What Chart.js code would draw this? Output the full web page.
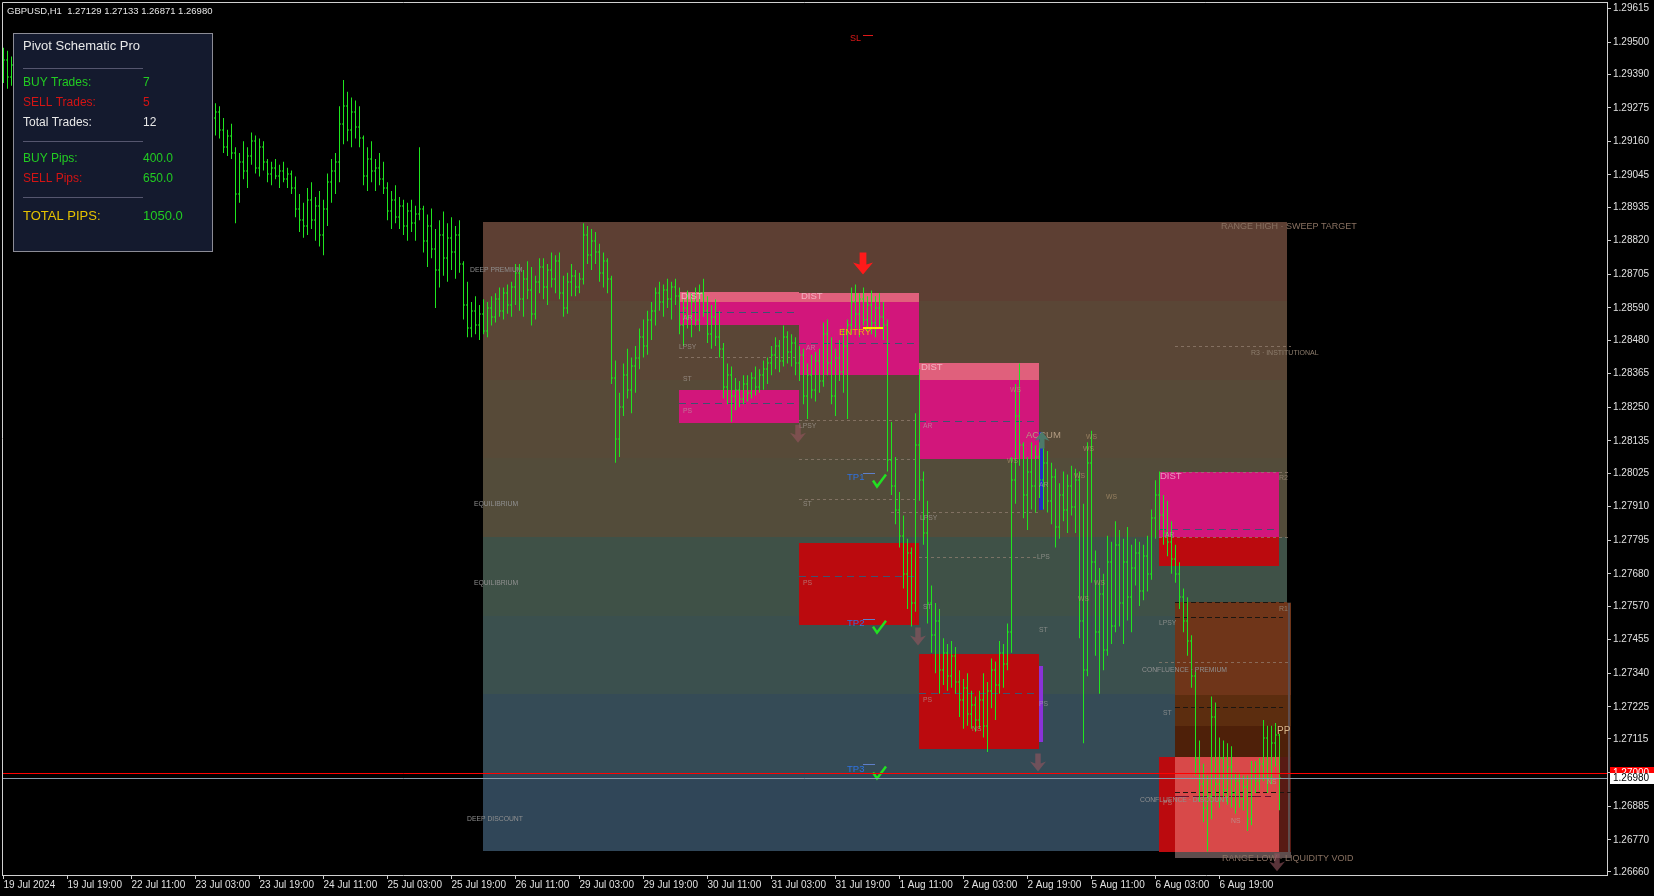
<!DOCTYPE html>
<html>
<head>
<meta charset="utf-8">
<title>GBPUSD,H1</title>
<script src="https://cdn.jsdelivr.net/npm/chart.js@4.4.1/dist/chart.umd.min.js"></script>
<style>
  html, body { margin: 0; padding: 0; background: #000; overflow: hidden; }
  canvas { display: block; }
</style>
</head>
<body>
<canvas id="myChart" width="1654" height="896"></canvas>
<script>
// ---- bars (H1) ----
const opens = [
1.2940,1.2944,1.2938,1.2942,1.2944,1.2946,1.2942,1.2946,1.2947,1.2944,
1.2946,1.2948,1.2945,1.2947,1.2944,1.2941,1.2943,1.2944,1.2940,1.2937,
1.2939,1.2935,1.2932,1.2934,1.2930,1.2927,1.2929,1.2926,1.2924,1.2927,
1.2925,1.2922,1.2925,1.2928,1.2931,1.2929,1.2933,1.2936,1.2934,1.2937,
1.2935,1.2938,1.2936,1.2933,1.2935,1.2931,1.2929,1.2932,1.2928,1.2930,
1.2927,1.2929,1.2926,1.2924,1.2926,1.2920,1.2914,1.2918,1.2912,1.2898,
1.2909,1.2906,1.2911,1.2916,1.2907,1.2914,1.2909,1.2905,1.2907,1.2904,
1.2906,1.2903,1.2905,1.2900,1.2893,1.2889,1.2887,1.2896,1.2889,1.2894,
1.2884,1.2893,1.2902,1.2906,1.2909,1.2922,1.2928,1.2920,1.2926,1.2921,
1.2917,1.2904,1.2910,1.2906,1.2907,1.2903,1.2900,1.2892,1.2896,1.2890,
1.2894,1.2887,1.2892,1.2888,1.2891,1.2893,1.2882,1.2887,1.2879,1.2872,
1.2884,1.2876,1.2883,1.2878,1.2884,1.2874,1.2860,1.2852,1.2858,1.2853,
1.2857,1.2851,1.2859,1.2856,1.2862,1.2858,1.2864,1.2860,1.2866,1.2871,
1.2862,1.2869,1.2865,1.2857,1.2868,1.2873,1.2866,1.2872,1.2869,1.2875,
1.2864,1.2859,1.2868,1.2870,1.2866,1.2869,1.2884,1.2877,1.2882,1.2878,
1.2871,1.2875,1.2869,1.2835,1.2814,1.2825,1.2836,1.2831,1.2839,1.2842,
1.2849,1.2846,1.2855,1.2858,1.2864,1.2861,1.2865,1.2862,1.2866,1.2863,
1.2853,1.2859,1.2856,1.2861,1.2855,1.2864,1.2858,1.2850,1.2856,1.2849,
1.2845,1.2832,1.2836,1.2829,1.2831,1.2828,1.2833,1.2830,1.2835,1.2832,
1.2836,1.2838,1.2840,1.2843,1.2846,1.2841,1.2849,1.2844,1.2847,1.2840,
1.2843,1.2829,1.2836,1.2831,1.2841,1.2834,1.2850,1.2840,1.2829,1.2842,
1.2837,1.2846,1.2853,1.2861,1.2857,1.2862,1.2855,1.2860,1.2854,1.2859,
1.2856,1.2853,1.2807,1.2798,1.2790,1.2781,1.2768,1.2775,1.2758,1.2812,
1.2800,1.2782,1.2758,1.2747,1.2752,1.2735,1.2741,1.2733,1.2740,1.2731,
1.2725,1.2729,1.2720,1.2723,1.2718,1.2725,1.2716,1.2728,1.2735,1.2730,
1.2741,1.2737,1.2748,1.2800,1.2822,1.2812,1.2795,1.2803,1.2798,1.2808,
1.2800,1.2806,1.2793,1.2801,1.2784,1.2795,1.2790,1.2798,1.2791,1.2800,
1.2752,1.2735,1.2806,1.2772,1.2748,1.2761,1.2742,1.2772,1.2750,1.2778,
1.2758,1.2772,1.2760,1.2770,1.2775,1.2762,1.2774,1.2768,1.2787,1.2795,
1.2788,1.2782,1.2779,1.2773,1.2768,1.2760,1.2752,1.2745,1.2733,1.2705,
1.2696,1.2688,1.2692,1.2719,1.2696,1.2705,1.2694,1.2702,1.2693,1.2697,
1.2691,1.2695,1.2684,1.2700,1.2697,1.2703,1.2712,1.2698,1.2710,1.27129
];
const highs = [
1.2948,1.2947,1.2945,1.2946,1.2948,1.2947,1.2948,1.2950,1.2949,1.2948,
1.2950,1.2949,1.2950,1.2948,1.2946,1.2944,1.2947,1.2945,1.2942,1.2942,
1.2940,1.2937,1.2937,1.2935,1.2932,1.2931,1.2930,1.2928,1.2929,1.2928,
1.2926,1.2927,1.2930,1.2933,1.2932,1.2935,1.2938,1.2937,1.2939,1.2938,
1.2940,1.2939,1.2937,1.2937,1.2936,1.2933,1.2934,1.2933,1.2932,1.2931,
1.2931,1.2930,1.2928,1.2929,1.2928,1.2924,1.2920,1.2922,1.2914,1.2912,
1.2916,1.2914,1.2919,1.2918,1.2917,1.2916,1.2910,1.2909,1.2910,1.2908,
1.2909,1.2907,1.2906,1.2904,1.2898,1.2895,1.2900,1.2902,1.2897,1.2899,
1.2896,1.2905,1.2910,1.2912,1.2928,1.2937,1.2933,1.2931,1.2930,1.2928,
1.2918,1.2914,1.2916,1.2910,1.2912,1.2909,1.2902,1.2899,1.2901,1.2897,
1.2896,1.2895,1.2896,1.2894,1.2914,1.2894,1.2891,1.2893,1.2886,1.2889,
1.2892,1.2888,1.2890,1.2887,1.2889,1.2875,1.2868,1.2861,1.2863,1.2860,
1.2862,1.2861,1.2863,1.2864,1.2866,1.2866,1.2867,1.2868,1.2874,1.2874,
1.2872,1.2875,1.2873,1.2870,1.2876,1.2876,1.2874,1.2878,1.2877,1.2878,
1.2870,1.2871,1.2874,1.2872,1.2871,1.2888,1.2887,1.2886,1.2885,1.2881,
1.2878,1.2876,1.2870,1.2841,1.2830,1.2840,1.2845,1.2842,1.2846,1.2852,
1.2855,1.2858,1.2861,1.2866,1.2868,1.2867,1.2869,1.2868,1.2869,1.2866,
1.2862,1.2865,1.2864,1.2866,1.2867,1.2869,1.2863,1.2860,1.2862,1.2858,
1.2847,1.2840,1.2839,1.2835,1.2834,1.2836,1.2836,1.2837,1.2839,1.2838,
1.2841,1.2842,1.2846,1.2849,1.2848,1.2853,1.2851,1.2850,1.2849,1.2846,
1.2845,1.2840,1.2843,1.2844,1.2845,1.2854,1.2855,1.2849,1.2845,1.2848,
1.2852,1.2855,1.2866,1.2867,1.2864,1.2866,1.2863,1.2865,1.2863,1.2864,
1.2861,1.2855,1.2820,1.2808,1.2796,1.2788,1.2780,1.2777,1.2823,1.2838,
1.2803,1.2793,1.2764,1.2758,1.2756,1.2746,1.2744,1.2745,1.2743,1.2735,
1.2732,1.2734,1.2728,1.2726,1.2728,1.2734,1.2731,1.2739,1.2738,1.2745,
1.2744,1.2751,1.2808,1.2833,1.2840,1.2813,1.2808,1.2813,1.2812,1.2813,
1.2811,1.2810,1.2806,1.2804,1.2799,1.2803,1.2802,1.2805,1.2804,1.2803,
1.2792,1.2813,1.2817,1.2776,1.2770,1.2768,1.2781,1.2779,1.2786,1.2783,
1.2780,1.2784,1.2778,1.2780,1.2779,1.2778,1.2781,1.2790,1.2800,1.2803,
1.2795,1.2793,1.2786,1.2778,1.2772,1.2763,1.2760,1.2747,1.2735,1.2711,
1.2703,1.2699,1.2726,1.2724,1.2712,1.2711,1.2710,1.2709,1.2700,1.2700,
1.2699,1.2699,1.2704,1.2704,1.2705,1.2718,1.2716,1.2716,1.2717,1.27133
];
const lows = [
1.2936,1.2934,1.2935,1.2939,1.2941,1.2940,1.2940,1.2944,1.2942,1.2942,
1.2944,1.2943,1.2943,1.2941,1.2939,1.2937,1.2941,1.2937,1.2934,1.2935,
1.2932,1.2929,1.2930,1.2927,1.2924,1.2925,1.2923,1.2921,1.2922,1.2922,
1.2919,1.2920,1.2923,1.2926,1.2926,1.2927,1.2931,1.2931,1.2932,1.2932,
1.2933,1.2933,1.2930,1.2931,1.2929,1.2926,1.2927,1.2925,1.2926,1.2924,
1.2925,1.2923,1.2921,1.2918,1.2917,1.2912,1.2911,1.2910,1.2888,1.2895,
1.2903,1.2900,1.2908,1.2905,1.2904,1.2906,1.2902,1.2901,1.2903,1.2900,
1.2902,1.2900,1.2898,1.2890,1.2885,1.2883,1.2884,1.2886,1.2882,1.2880,
1.2877,1.2887,1.2895,1.2898,1.2902,1.2915,1.2916,1.2914,1.2917,1.2914,
1.2901,1.2899,1.2902,1.2899,1.2901,1.2898,1.2889,1.2886,1.2888,1.2886,
1.2884,1.2882,1.2885,1.2882,1.2889,1.2878,1.2873,1.2876,1.2859,1.2866,
1.2870,1.2868,1.2872,1.2869,1.2871,1.2855,1.2849,1.2849,1.2850,1.2848,
1.2850,1.2849,1.2853,1.2854,1.2856,1.2855,1.2857,1.2856,1.2860,1.2858,
1.2856,1.2862,1.2853,1.2855,1.2864,1.2862,1.2860,1.2866,1.2864,1.2862,
1.2856,1.2857,1.2863,1.2863,1.2864,1.2867,1.2874,1.2872,1.2874,1.2868,
1.2866,1.2864,1.2833,1.2806,1.2808,1.2822,1.2828,1.2823,1.2830,1.2838,
1.2842,1.2843,1.2848,1.2853,1.2858,1.2856,1.2859,1.2855,1.2860,1.2850,
1.2846,1.2852,1.2849,1.2853,1.2851,1.2856,1.2847,1.2845,1.2846,1.2842,
1.2828,1.2826,1.2820,1.2824,1.2825,1.2826,1.2827,1.2828,1.2829,1.2830,
1.2831,1.2833,1.2836,1.2838,1.2837,1.2839,1.2840,1.2839,1.2836,1.2834,
1.2826,1.2821,1.2828,1.2827,1.2830,1.2832,1.2836,1.2826,1.2822,1.2834,
1.2830,1.2821,1.2850,1.2852,1.2849,1.2853,1.2851,1.2850,1.2849,1.2852,
1.2848,1.2803,1.2795,1.2785,1.2777,1.2763,1.2756,1.2750,1.2755,1.2793,
1.2778,1.2751,1.2741,1.2734,1.2727,1.2730,1.2728,1.2729,1.2727,1.2719,
1.2715,1.2716,1.2715,1.2714,1.2715,1.2712,1.2707,1.2722,1.2718,1.2727,
1.2729,1.2735,1.2741,1.2792,1.2805,1.2787,1.2783,1.2790,1.2789,1.2794,
1.2790,1.2789,1.2785,1.2777,1.2780,1.2786,1.2782,1.2788,1.2782,1.2746,
1.2710,1.2733,1.2765,1.2740,1.2727,1.2735,1.2740,1.2744,1.2748,1.2750,
1.2744,1.2752,1.2748,1.2764,1.2757,1.2759,1.2762,1.2766,1.2780,1.2783,
1.2778,1.2774,1.2768,1.2765,1.2756,1.2748,1.2740,1.2729,1.2699,1.2690,
1.2683,1.2673,1.2684,1.2690,1.2688,1.2690,1.2689,1.2688,1.2686,1.2688,
1.2687,1.2680,1.2682,1.2693,1.2694,1.2697,1.2693,1.2696,1.2702,1.26871
];
const closes = [
1.2944,1.2938,1.2942,1.2944,1.2946,1.2942,1.2946,1.2947,1.2944,1.2946,
1.2948,1.2945,1.2947,1.2944,1.2941,1.2943,1.2944,1.2940,1.2937,1.2939,
1.2935,1.2932,1.2934,1.2930,1.2927,1.2929,1.2926,1.2924,1.2927,1.2925,
1.2922,1.2925,1.2928,1.2931,1.2929,1.2933,1.2936,1.2934,1.2937,1.2935,
1.2938,1.2936,1.2933,1.2935,1.2931,1.2929,1.2932,1.2928,1.2930,1.2927,
1.2929,1.2926,1.2924,1.2926,1.2920,1.2914,1.2918,1.2912,1.2898,1.2909,
1.2906,1.2911,1.2916,1.2907,1.2914,1.2909,1.2905,1.2907,1.2904,1.2906,
1.2903,1.2905,1.2900,1.2893,1.2889,1.2887,1.2896,1.2889,1.2894,1.2884,
1.2893,1.2902,1.2906,1.2909,1.2922,1.2928,1.2920,1.2926,1.2921,1.2917,
1.2904,1.2910,1.2906,1.2907,1.2903,1.2900,1.2892,1.2896,1.2890,1.2894,
1.2887,1.2892,1.2888,1.2891,1.2893,1.2882,1.2887,1.2879,1.2872,1.2884,
1.2876,1.2883,1.2878,1.2884,1.2874,1.2860,1.2852,1.2858,1.2853,1.2857,
1.2851,1.2859,1.2856,1.2862,1.2858,1.2864,1.2860,1.2866,1.2871,1.2862,
1.2869,1.2865,1.2857,1.2868,1.2873,1.2866,1.2872,1.2869,1.2875,1.2864,
1.2859,1.2868,1.2870,1.2866,1.2869,1.2884,1.2877,1.2882,1.2878,1.2871,
1.2875,1.2869,1.2835,1.2814,1.2825,1.2836,1.2831,1.2839,1.2842,1.2849,
1.2846,1.2855,1.2858,1.2864,1.2861,1.2865,1.2862,1.2866,1.2863,1.2853,
1.2859,1.2856,1.2861,1.2855,1.2864,1.2858,1.2850,1.2856,1.2849,1.2845,
1.2832,1.2836,1.2829,1.2831,1.2828,1.2833,1.2830,1.2835,1.2832,1.2836,
1.2838,1.2840,1.2843,1.2846,1.2841,1.2849,1.2844,1.2847,1.2840,1.2843,
1.2829,1.2836,1.2831,1.2841,1.2834,1.2850,1.2840,1.2829,1.2842,1.2837,
1.2846,1.2853,1.2861,1.2857,1.2862,1.2855,1.2860,1.2854,1.2859,1.2856,
1.2853,1.2807,1.2798,1.2790,1.2781,1.2768,1.2775,1.2758,1.2812,1.2800,
1.2782,1.2758,1.2747,1.2752,1.2735,1.2741,1.2733,1.2740,1.2731,1.2725,
1.2729,1.2720,1.2723,1.2718,1.2725,1.2716,1.2728,1.2735,1.2730,1.2741,
1.2737,1.2748,1.2800,1.2822,1.2812,1.2795,1.2803,1.2798,1.2808,1.2800,
1.2806,1.2793,1.2801,1.2784,1.2795,1.2790,1.2798,1.2791,1.2800,1.2752,
1.2735,1.2806,1.2772,1.2748,1.2761,1.2742,1.2772,1.2750,1.2778,1.2758,
1.2772,1.2760,1.2770,1.2775,1.2762,1.2774,1.2768,1.2787,1.2795,1.2788,
1.2782,1.2779,1.2773,1.2768,1.2760,1.2752,1.2745,1.2733,1.2705,1.2696,
1.2688,1.2692,1.2719,1.2696,1.2705,1.2694,1.2702,1.2693,1.2697,1.2691,
1.2695,1.2684,1.2700,1.2697,1.2703,1.2712,1.2698,1.2710,1.2713,1.26980
];

const symbol = 'GBPUSD';
const timeframe = 'H1';

// ---- axes ----
const xTickBars = [0,16,32,48,64,80,96,112,128,144,160,176,192,208,224,240,256,272,288,304];
const xTickLabels = ['19 Jul 2024','19 Jul 19:00','22 Jul 11:00','23 Jul 03:00','23 Jul 19:00',
  '24 Jul 11:00','25 Jul 03:00','25 Jul 19:00','26 Jul 11:00','29 Jul 03:00','29 Jul 19:00',
  '30 Jul 11:00','31 Jul 03:00','31 Jul 19:00','1 Aug 11:00','2 Aug 03:00','2 Aug 19:00',
  '5 Aug 11:00','6 Aug 03:00','6 Aug 19:00'];
const yTickValues = [1.29615,1.29500,1.29390,1.29275,1.29160,1.29045,1.28935,1.28820,1.28705,
  1.28590,1.28480,1.28365,1.28250,1.28135,1.28025,1.27910,1.27795,1.27680,1.27570,1.27455,
  1.27340,1.27225,1.27115,1.27000,1.26885,1.26770,1.26660];
const yAxisMin = 1.266495;
const yAxisMax = 1.296369;
const xAxisMin = -0.375;
const xAxisMax = 400.875;

// ---- price levels ----
const alertLevel = 1.27000;
const bidLevel = 1.26980;

// ---- dealing range ----
const rangeBars = [120, 321];
const rangeHigh = 1.28883;
const rangeLow = 1.26730;
const bandColors = ['#5d3f33','#5a4636','#574a38','#534c3a','#3f5147','#3b504e','#354b56','#304658'];

// [fromBar, toBar, top, bottom, kind]
const schematicBoxes = [
  [169, 199, 1.28646, 1.28533, 'dist'],
  [169, 199, 1.28646, 1.28612, 'distHead'],
  [169, 199, 1.28310, 1.28197, 'dist'],
  [199, 229, 1.28642, 1.28359, 'dist'],
  [199, 229, 1.28642, 1.28612, 'distHead'],
  [229, 259, 1.28403, 1.28074, 'dist'],
  [229, 259, 1.28403, 1.28342, 'distHead'],
  [289, 319, 1.28029, 1.27805, 'dist'],
  [289, 319, 1.27805, 1.27706, 'supply'],
  [199, 229, 1.27787, 1.27505, 'supply'],
  [229, 259, 1.27407, 1.27079, 'supply'],
  [293, 322, 1.27585, 1.27267, 'r1'],
  [293, 322, 1.27267, 1.27158, 'st'],
  [293, 322, 1.27158, 1.26727, 'pp'],
  [319, 322, 1.27052, 1.26727, 'ppEdge'],
  [289, 293, 1.27052, 1.26727, 'supply'],
  [293, 319, 1.27052, 1.26727, 'discount'],
  [293, 322, 1.26727, 1.26706, 'edge'],
  [321.25, 321.75, 1.27585, 1.26727, 'edge'],
  [259, 260, 1.28167, 1.27900, 'accumBar'],
  [259, 260, 1.27366, 1.27103, 'markBar']
];
// [fromBar, toBar, price, kind]
const levelLines = [
  [169, 198, 1.28577, 'box'], [169, 198, 1.28266, 'box'], [199, 228, 1.28470, 'box'],
  [229, 258, 1.28204, 'box'], [289, 318, 1.27835, 'box'], [199, 228, 1.27671, 'box'],
  [229, 258, 1.27274, 'box'],
  [169, 199, 1.28423, 'dot'], [199, 229, 1.28208, 'dot'], [199, 229, 1.28074, 'dot'],
  [199, 229, 1.27937, 'dot'], [222, 259, 1.27893, 'dot'], [229, 259, 1.27739, 'dot'],
  [293, 322, 1.28461, 'dot'], [289, 322, 1.28029, 'dot'], [289, 322, 1.27805, 'dot'],
  [289, 322, 1.27377, 'dot'],
  [293, 322, 1.27585, 'dark'], [293, 320, 1.27531, 'dark'], [293, 320, 1.27226, 'dark'],
  [293, 322, 1.26932, 'dark'], [293, 317, 1.26919, 'maroon']
];
// [text, bar, price, kind]
const chartLabels = [
  ['RANGE HIGH · SWEEP TARGET', 304.5, 1.28868, 'range'],
  ['RANGE LOW · LIQUIDITY VOID', 304.75, 1.26706, 'range'],
  ['DEEP PREMIUM', 116.75, 1.28721, 'zone'],
  ['EQUILIBRIUM', 117.75, 1.27917, 'zone'],
  ['EQUILIBRIUM', 117.75, 1.27650, 'zone'],
  ['DEEP DISCOUNT', 116, 1.26840, 'zone'],
  ['CONFLUENCE · PREMIUM', 284.75, 1.27349, 'zone'],
  ['CONFLUENCE · DISCOUNT', 284.25, 1.26905, 'zone'],
  ['R3 · INSTITUTIONAL', 312, 1.28437, 'pivot'],
  ['R2', 319, 1.28009, 'pivot'],
  ['R1', 319, 1.27561, 'pivot'],
  ['PP', 318.5, 1.27141, 'pp'],
  ['DIST', 169.5, 1.28628, 'dist'], ['DIST', 199.5, 1.28628, 'dist'],
  ['DIST', 229.5, 1.28386, 'dist'], ['DIST', 289.25, 1.28013, 'dist'],
  ['ACCUM', 255.75, 1.28153, 'accum'],
  ['AR', 170, 1.28556, 'phase'], ['LPSY', 169, 1.28457, 'phase'], ['ST', 170, 1.28348, 'phase'],
  ['PS', 170, 1.28238, 'phase'], ['AR', 200.75, 1.28454, 'phase'], ['LPSY', 199, 1.28187, 'phase'],
  ['ST', 200, 1.27917, 'phase'], ['PS', 200, 1.27647, 'phase'], ['AR', 230, 1.28184, 'phase'],
  ['LPSY', 229.25, 1.27872, 'phase'], ['ST', 230, 1.27565, 'phase'], ['PS', 230, 1.27247, 'phase'],
  ['NS', 242.25, 1.27148, 'phase'], ['LPS', 258.5, 1.27739, 'phase'], ['AR', 259, 1.27985, 'phase'],
  ['ST', 259, 1.27486, 'phase'], ['PS', 259, 1.27233, 'phase'], ['AR', 290.5, 1.27814, 'phase'],
  ['LPSY', 289, 1.27510, 'phase'], ['ST', 290, 1.27202, 'phase'], ['PS', 290, 1.26894, 'phase'],
  ['NS', 307, 1.26833, 'phase'], ['NS', 316, 1.26968, 'phase'],
  ['WS', 251.75, 1.28310, 'ws'], ['WS', 251, 1.28067, 'ws'], ['WS', 270.75, 1.28149, 'ws'],
  ['WS', 270, 1.28108, 'ws'], ['WS', 267.75, 1.28016, 'ws'], ['WS', 275.75, 1.27944, 'ws'],
  ['WS', 272.75, 1.27650, 'ws'], ['WS', 268.75, 1.27592, 'ws'],
  ['ENTRY', 209, 1.28505, 'entry'],
  ['TP1', 211, 1.28009, 'tp'], ['TP2', 211, 1.27510, 'tp'], ['TP3', 211, 1.27011, 'tp'],
  ['SL', 211.75, 1.29511, 'sl']
];
// [fromBar, toBar, price, kind]
const tradeTicks = [
  [215, 218, 1.28026, 'tp'], [215, 218, 1.27527, 'tp'], [215, 218, 1.27028, 'tp'],
  [215, 217.5, 1.29524, 'sl'], [215, 220, 1.28526, 'entry']
];
const tpHits = [[217.25, 1.27996], [217.25, 1.27496], [217.25, 1.26997]];
// [bar, tipPrice, kind]
const signalArrows = [
  [215, 1.28704, 'sell'], [198.75, 1.28129, 'exit'], [228.75, 1.27435, 'exit'],
  [258.75, 1.27004, 'exit'], [318.5, 1.26662, 'exit'], [259.75, 1.28167, 'accum']
];

// ---- panel stats ----
const buyTrades = 7, sellTrades = 5, totalTrades = 12;
const buyPips = 400.0, sellPips = 650.0, totalPips = 1050.0;

// ---- styles ----
const barGreen = '#1fe61f';
const FONT = '"Liberation Sans", Arial, sans-serif';
const font = (s) => s + 'px ' + FONT;
const boxColors = {
  dist: 'rgba(220,18,128,0.93)', distHead: '#e0607c', supply: '#bb0a0e',
  r1: '#6f3519', st: '#5c2d0f', pp: '#4e2009', ppEdge: '#581a14', discount: '#d84949',
  edge: '#5e4d4d', accumBar: '#2230c4', markBar: '#8a32d8'
};
const lineStyles = {
  box: { color: '#3f5270', dash: [7, 5] },
  dot: { color: 'rgba(150,130,115,0.7)', dash: [3, 3] },
  dark: { color: '#1c1610', dash: [5, 3] },
  maroon: { color: '#6e1030', dash: [14, 4] }
};
const labelStyles = {
  range: { size: 9, color: '#8a7262' },
  zone: { size: 6.8, color: '#909090' },
  pivot: { size: 7, color: '#8e7e6e' },
  pp: { size: 10, color: '#d6b48a' },
  dist: { size: 9.5, color: 'rgba(255,228,235,0.6)' },
  accum: { size: 9.5, color: '#b39c82' },
  phase: { size: 6.8, color: 'rgba(180,175,170,0.62)' },
  ws: { size: 6.8, color: 'rgba(190,160,120,0.62)' },
  entry: { size: 9.5, color: '#f0a818' },
  tp: { size: 9.5, color: '#2f72e0' },
  sl: { size: 9, color: '#e01818' }
};
const tickColors = { tp: '#5f7fc8', sl: '#e01818', entry: '#ffe000' };

Chart.defaults.font.family = FONT;

function colLeft(scale, bar) { return scale.getPixelForValue(bar) - 0.5; }

const background = {
  id: 'background',
  beforeDraw(chart) {
    const ctx = chart.ctx;
    ctx.save();
    ctx.fillStyle = '#000';
    ctx.fillRect(0, 0, chart.width, chart.height);
    ctx.restore();
  }
};

const zones = {
  id: 'zones',
  beforeDatasetsDraw(chart) {
    const { ctx, scales: { x, y } } = chart;
    const rect = (b0, b1, p0, p1, color) => {
      const x0 = Math.round(colLeft(x, b0)), x1 = Math.round(colLeft(x, b1));
      const y0 = Math.round(y.getPixelForValue(p0)), y1 = Math.round(y.getPixelForValue(p1));
      ctx.fillStyle = color;
      ctx.fillRect(x0, y0, Math.max(x1 - x0, 1), y1 - y0);
    };
    ctx.save();
    const step = (rangeHigh - rangeLow) / bandColors.length;
    bandColors.forEach((c, k) => {
      rect(rangeBars[0], rangeBars[1], rangeHigh - k * step, rangeHigh - (k + 1) * step, c);
    });
    schematicBoxes.forEach(b => rect(b[0], b[1], b[2], b[3], boxColors[b[4]]));
    ctx.lineWidth = 1;
    levelLines.forEach(l => {
      const st = lineStyles[l[3]];
      const py = Math.round(y.getPixelForValue(l[2])) + 0.5;
      ctx.strokeStyle = st.color;
      ctx.setLineDash(st.dash);
      ctx.beginPath();
      ctx.moveTo(colLeft(x, l[0]), py);
      ctx.lineTo(colLeft(x, l[1]), py);
      ctx.stroke();
    });
    ctx.setLineDash([]);
    ctx.restore();
  }
};

function drawArrow(ctx, cx, tip, w, h, dir, color) {
  const shaft = w * 0.34, head = h * 0.55;
  ctx.fillStyle = color;
  ctx.beginPath();
  ctx.moveTo(cx, tip);
  ctx.lineTo(cx - w / 2, tip - dir * head);
  ctx.lineTo(cx - shaft / 2, tip - dir * (head - 2));
  ctx.lineTo(cx - shaft / 2, tip - dir * h);
  ctx.lineTo(cx + shaft / 2, tip - dir * h);
  ctx.lineTo(cx + shaft / 2, tip - dir * (head - 2));
  ctx.lineTo(cx + w / 2, tip - dir * head);
  ctx.closePath();
  ctx.fill();
}

const overlays = {
  id: 'overlays',
  afterDatasetsDraw(chart) {
    const { ctx, chartArea, scales: { x, y } } = chart;
    ctx.save();
    // open / close ticks of the bars
    ctx.fillStyle = barGreen;
    for (let i = 0; i < opens.length; i++) {
      const px = Math.floor(x.getPixelForValue(i));
      ctx.fillRect(px - 1, Math.round(y.getPixelForValue(opens[i])) - 0.5, 1, 1);
      ctx.fillRect(px + 1, Math.round(y.getPixelForValue(closes[i])) - 0.5, 1, 1);
    }
    // labels
    ctx.textAlign = 'left';
    ctx.textBaseline = 'middle';
    chartLabels.forEach(l => {
      const st = labelStyles[l[3]];
      ctx.font = font(st.size);
      ctx.fillStyle = st.color;
      ctx.fillText(l[0], colLeft(x, l[1]), y.getPixelForValue(l[2]));
    });
    // trade ticks
    tradeTicks.forEach(t => {
      const py = Math.round(y.getPixelForValue(t[2]));
      ctx.fillStyle = tickColors[t[3]];
      ctx.fillRect(colLeft(x, t[0]), py, colLeft(x, t[1]) - colLeft(x, t[0]), t[3] === 'entry' ? 2 : 1);
    });
    // check marks
    ctx.strokeStyle = '#22e022';
    ctx.lineWidth = 2.5;
    ctx.lineJoin = 'miter';
    tpHits.forEach(h => {
      const ax = colLeft(x, h[0]), ay = y.getPixelForValue(h[1]);
      ctx.beginPath();
      ctx.moveTo(ax + 1, ay - 1);
      ctx.lineTo(ax + 5, ay + 5);
      ctx.lineTo(ax + 14, ay - 7);
      ctx.stroke();
    });
    // arrows
    signalArrows.forEach(a => {
      const cx = colLeft(x, a[0]), tip = y.getPixelForValue(a[1]);
      if (a[2] === 'sell') drawArrow(ctx, cx, tip, 20, 22, 1, '#ff1a1a');
      else if (a[2] === 'exit') drawArrow(ctx, cx, tip, 16, 18, 1, 'rgba(150,85,95,0.6)');
      else drawArrow(ctx, cx, tip, 15, 17, -1, '#4d7a6b');
    });
    // alert line and bid line
    const ya = Math.round(y.getPixelForValue(alertLevel)) + 0.5;
    const yb = Math.round(y.getPixelForValue(bidLevel)) + 0.5;
    ctx.lineWidth = 1;
    ctx.strokeStyle = '#ff0000';
    ctx.beginPath(); ctx.moveTo(chartArea.left, ya); ctx.lineTo(chartArea.right, ya); ctx.stroke();
    ctx.strokeStyle = '#8a9bab';
    ctx.beginPath(); ctx.moveTo(chartArea.left, yb); ctx.lineTo(chartArea.right, yb); ctx.stroke();
    ctx.restore();
  }
};

const frame = {
  id: 'frame',
  afterDraw(chart) {
    const { ctx, chartArea, scales: { y } } = chart;
    ctx.save();
    ctx.strokeStyle = '#d0d0d0';
    ctx.lineWidth = 1;
    ctx.beginPath();
    ctx.moveTo(chartArea.left + 0.5, chartArea.bottom);
    ctx.lineTo(chartArea.left + 0.5, chartArea.top + 0.5);
    ctx.lineTo(chartArea.right, chartArea.top + 0.5);
    ctx.stroke();

    // price tags on the axis
    ctx.font = font(10);
    ctx.textBaseline = 'middle';
    ctx.textAlign = 'left';
    const ya = Math.round(y.getPixelForValue(alertLevel));
    const yb = Math.round(y.getPixelForValue(bidLevel));
    ctx.fillStyle = '#ff0000';
    ctx.fillRect(chartArea.right + 3, ya - 6, 44, 11);
    ctx.fillStyle = '#ffffff';
    ctx.fillText(alertLevel.toFixed(5), chartArea.right + 6, ya);
    ctx.fillStyle = '#ffffff';
    ctx.fillRect(chartArea.right + 3, yb - 5, 44, 11);
    ctx.fillStyle = '#000000';
    ctx.fillText(bidLevel.toFixed(5), chartArea.right + 6, yb + 0.5);

    // header
    const n = opens.length - 1;
    ctx.font = font(9.5);
    ctx.fillStyle = '#e6e6e6';
    ctx.fillText(symbol + ',' + timeframe + '  ' + opens[n].toFixed(5) + ' ' + highs[n].toFixed(5) + ' ' +
      lows[n].toFixed(5) + ' ' + closes[n].toFixed(5), 7, 11);

    // stats panel
    ctx.fillStyle = '#141a2e';
    ctx.fillRect(13.5, 33.5, 199, 218);
    ctx.strokeStyle = '#8c8c96';
    ctx.strokeRect(13.5, 33.5, 199, 218);
    ctx.fillStyle = '#e8e8e8';
    ctx.font = font(13);
    ctx.fillText('Pivot Schematic Pro', 23, 46);
    ctx.strokeStyle = '#55566e';
    [68.5, 141.5, 197.5].forEach(v => {
      ctx.beginPath(); ctx.moveTo(23, v); ctx.lineTo(143, v); ctx.stroke();
    });
    const rows = [
      ['BUY Trades:', String(buyTrades), '#22cc22', '#22cc22', 82.5, 12],
      ['SELL Trades:', String(sellTrades), '#d41414', '#d41414', 102.5, 12],
      ['Total Trades:', String(totalTrades), '#e8e8e8', '#e8e8e8', 122.5, 12],
      ['BUY Pips:', buyPips.toFixed(1), '#22cc22', '#22cc22', 158.5, 12],
      ['SELL Pips:', sellPips.toFixed(1), '#d41414', '#22cc22', 178.5, 12],
      ['TOTAL PIPS:', totalPips.toFixed(1), '#e6c200', '#22cc22', 216, 13]
    ];
    rows.forEach(r => {
      ctx.font = font(r[5]);
      ctx.fillStyle = r[2];
      ctx.fillText(r[0], 23, r[4]);
      ctx.fillStyle = r[3];
      ctx.fillText(r[1], 143, r[4]);
    });
    ctx.restore();
  }
};

const config = {
  type: 'bar',
  data: {
    datasets: [{
      data: opens.map((o, i) => ({ x: i, y: [lows[i], highs[i]] })),
      backgroundColor: barGreen,
      borderWidth: 0,
      barThickness: 1,
      inflateAmount: 0,
      borderSkipped: false
    }]
  },
  options: {
    responsive: false,
    animation: false,
    devicePixelRatio: 1,
    events: [],
    layout: { padding: { left: 2, top: 2, right: 0, bottom: 0 } },
    plugins: {
      legend: { display: false },
      tooltip: { enabled: false },
      title: { display: false }
    },
    scales: {
      x: {
        type: 'linear',
        min: xAxisMin,
        max: xAxisMax,
        offset: false,
        afterBuildTicks: (s) => { s.ticks = xTickBars.map(v => ({ value: v })); },
        afterFit: (s) => { s.height = 21; s.paddingLeft = 0; s.paddingRight = 0; },
        ticks: {
          autoSkip: false, maxRotation: 0, minRotation: 0, align: 'start', padding: 0,
          color: '#e0e0e0', font: { size: 10 },
          callback: (v, k) => xTickLabels[k]
        },
        grid: { drawOnChartArea: false, drawTicks: true, tickLength: 4, color: '#d0d0d0', offset: false },
        border: { display: true, color: '#d0d0d0' }
      },
      y: {
        type: 'linear',
        position: 'right',
        min: yAxisMin,
        max: yAxisMax,
        beginAtZero: false,
        afterBuildTicks: (s) => { s.ticks = yTickValues.map(v => ({ value: v })); },
        afterFit: (s) => { s.width = 47; s.paddingTop = 0; s.paddingBottom = 0; },
        ticks: {
          autoSkip: false, padding: 2, color: '#e0e0e0', font: { size: 10 },
          callback: (v) => Number(v).toFixed(5)
        },
        grid: { drawOnChartArea: false, drawTicks: true, tickLength: 4, color: '#d0d0d0' },
        border: { display: true, color: '#d0d0d0' }
      }
    }
  },
  plugins: [background, zones, overlays, frame]
};

const myChart = new Chart(document.getElementById('myChart'), config);
</script>
</body>
</html>
